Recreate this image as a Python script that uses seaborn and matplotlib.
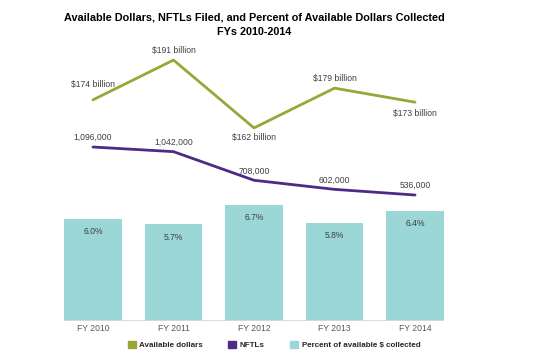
import numpy as np
import pandas as pd
import matplotlib.pyplot as plt
import seaborn as sns

sns.set_theme(style="white")
plt.rcParams['font.family'] = ['Liberation Sans', 'DejaVu Sans']

# Data
years = ["FY 2010", "FY 2011", "FY 2012", "FY 2013", "FY 2014"]
avail_billions = [174, 191, 162, 179, 173]
nftls = [1096000, 1042000, 708000, 602000, 536000]
pct_collected = [6.0, 5.7, 6.7, 5.8, 6.4]

green = "#9aa636"
purple = "#4e2a84"
teal = "#9ad7d6"
label_col = "#404040"

df = pd.DataFrame({"year": years, "avail": avail_billions, "nftl": nftls, "pct": pct_collected})

fig = plt.figure(figsize=(5.55, 3.63), dpi=100)
W, H = 555, 363
left, right, bottom, top = 64, 444, 321, 50
rect = [left / W, 1 - bottom / H, (right - left) / W, (bottom - top) / H]
ax = fig.add_axes(rect)

# bars: percent of available $ collected
sns.barplot(data=df, x="year", y="pct", color=teal, width=0.72, ax=ax,
            saturation=1, linewidth=0)
ax.set_ylim(0.75, 14.65)
for i, v in enumerate(pct_collected):
    ax.annotate(f"{v:.1f}%", (i, v), xytext=(0, -6), textcoords="offset points",
                ha="center", va="top", fontsize=6.2, color=label_col)

# line: available dollars
ax2 = ax.twinx()
sns.pointplot(data=df, x="year", y="avail", color=green, markers="", linewidth=2, ax=ax2)
ax2.set_ylim(79.5, 195.3)
offsets = [(0, 8), (0, 4), (0, -4), (0, 4), (0, -5)]
for i, (v, off) in enumerate(zip(avail_billions, offsets)):
    ax2.annotate(f"${v} billion", (i, v), xytext=off, textcoords="offset points",
                 ha="center", va="bottom" if off[1] > 0 else "top",
                 fontsize=6.2, color=label_col)

# line: NFTLs filed
ax3 = ax.twinx()
sns.pointplot(data=df, x="year", y="nftl", color=purple, markers="", linewidth=2, ax=ax3)
ax3.set_ylim(-934000, 2228000)
for i, v in enumerate(nftls):
    ax3.annotate(f"{v:,}", (i, v), xytext=(0, 3.5), textcoords="offset points",
                 ha="center", va="bottom", fontsize=6.2, color=label_col)

for a in (ax, ax2, ax3):
    a.set_xlim(-0.36, 4.36)
    for s in a.spines.values():
        s.set_visible(False)
    a.set_ylabel("")
    a.set_xlabel("")
    a.set_yticks([])
    a.grid(False)
ax2.patch.set_visible(False)
ax3.patch.set_visible(False)

ax.axhline(0.75, color="#d9d9d9", linewidth=2, zorder=5)
ax.tick_params(axis="x", length=0, labelsize=6.2, labelcolor="#595959", pad=2.5)

fig.suptitle("Available Dollars, NFTLs Filed, and Percent of Available Dollars Collected\nFYs 2010-2014",
             x=(left + right) / 2 / W, y=1 - 13 / H, fontsize=7.8, fontweight="bold",
             color="black", linespacing=1.5)

handles = [plt.Rectangle((0, 0), 1, 1, color=c) for c in (green, purple, teal)]
fig.legend(handles, ["Available dollars", "NFTLs", "Percent of available $ collected"],
           loc="center", bbox_to_anchor=(274 / W, 1 - 345 / H), ncol=3, frameon=False,
           prop={"size": 5.8, "weight": "bold"}, handlelength=1.0, handleheight=1.0,
           handletextpad=0.4, columnspacing=3.2)

fig.savefig("out.png", dpi=100)
